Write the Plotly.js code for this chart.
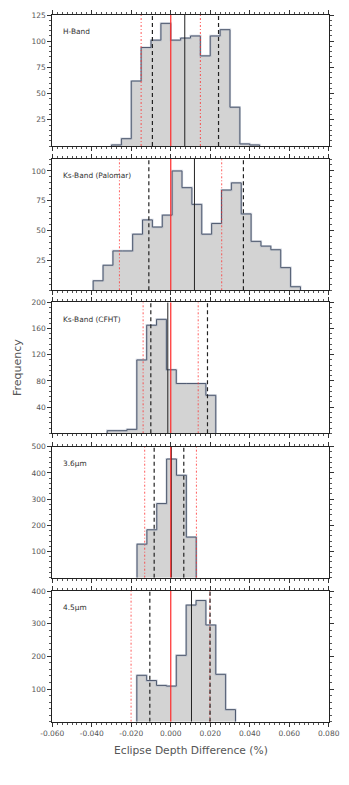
<!DOCTYPE html>
<html>
<head>
<meta charset="utf-8">
<script src="https://cdn.plot.ly/plotly-3.0.1.min.js"></script>
<style>
  html, body { margin: 0; padding: 0; background: #fff; }
  #chart { width: 349px; height: 785px; }
</style>
</head>
<body>
<div id="chart"></div>
<script>
/* histogram data, bin width 0.005 */
var binWidth = 0.005;

var bandNames = ['H-Band', 'Ks-Band (Palomar)', 'Ks-Band (CFHT)', '3.6\u03bcm', '4.5\u03bcm'];

var hBandStart = -0.030;
var hBandCounts = [1, 7, 62, 94, 101, 117, 101, 103, 105, 86, 105, 111, 37, 2, 1];

var palomarStart = -0.0393;
var palomarCounts = [8, 21, 33, 33, 47, 59, 53, 63, 100, 86, 72, 47, 56, 84, 90, 64, 41, 37, 34, 19, 3];

var cfhtStart = -0.0322;
var cfhtCounts = [4, 4, 6, 112, 165, 174, 97, 76, 76, 76, 58];

var irac1Start = -0.0171;
var irac1Counts = [128, 183, 283, 453, 391, 155];

var irac2Start = -0.0172;
var irac2Counts = [142, 126, 111, 109, 203, 357, 371, 296, 145, 37];

/* vertical markers: mean (black solid), 1-sigma (black dashed), red dotted */
var meanLines = [0.0071, 0.012, -0.0015, 0.0003, 0.0105];
var dashedLines = [[-0.0093, 0.0242], [-0.0111, 0.0368], [-0.0101, 0.0186], [-0.0084, 0.0066], [-0.0106, 0.0199]];
var dottedLines = [[-0.015, 0.015], [-0.026, 0.0258], [-0.014, 0.0139], [-0.0132, 0.013], [-0.0201, 0.0198]];

/* axes */
var yMax = [125, 110, 200, 500, 400];
var yTicks = [[25, 50, 75, 100, 125], [25, 50, 75, 100], [40, 80, 120, 160, 200], [100, 200, 300, 400, 500], [100, 200, 300, 400]];
var xTickVals = [-0.06, -0.04, -0.02, 0.0, 0.02, 0.04, 0.06, 0.08];
var xTickText = ['-0.060', '-0.040', '-0.020', '0.000', '0.020', '0.040', '0.060', '0.080'];

var starts = [hBandStart, palomarStart, cfhtStart, irac1Start, irac2Start];
var counts = [hBandCounts, palomarCounts, cfhtCounts, irac1Counts, irac2Counts];

// panel positions in pixels (top, bottom)
var W = 349, H = 785;
var panelPx = [[15, 146], [159, 290.3], [302.3, 433.3], [446.7, 577.7], [591, 721.7]];
var xDomain = [52.3 / W, 328.7 / W];

var traces = [];
var layout = {
	width: W,
	height: H,
	margin: {l: 0, r: 0, t: 0, b: 0},
	paper_bgcolor: '#fff',
	plot_bgcolor: '#fff',
	showlegend: false,
	font: {family: 'DejaVu Sans, sans-serif', size: 7.5, color: '#555'},
	annotations: []
};

for (var i = 0; i < 5; i++) {
	var sfx = i === 0 ? '' : String(i + 1);
	var xa = 'x' + sfx, ya = 'y' + sfx;

	// step outline of the histogram
	var xs = [starts[i]], ys = [0];
	for (var k = 0; k < counts[i].length; k++) {
		xs.push(starts[i] + k * binWidth);
		ys.push(counts[i][k]);
	}
	xs.push(starts[i] + counts[i].length * binWidth);
	ys.push(0);

	traces.push({
		x: xs, y: ys, xaxis: xa, yaxis: ya,
		type: 'scatter', mode: 'lines',
		line: {shape: 'hv', color: 'rgba(160,170,190,0.5)', width: 2.2},
		fill: 'tozeroy', fillcolor: '#d3d3d3',
		hoverinfo: 'skip'
	});
	traces.push({
		x: xs, y: ys, xaxis: xa, yaxis: ya,
		type: 'scatter', mode: 'lines',
		line: {shape: 'hv', color: '#505b70', width: 1},
		hoverinfo: 'skip'
	});

	dottedLines[i].forEach(function (v) {
		traces.push({
			x: [v, v], y: [0, yMax[i]], xaxis: xa, yaxis: ya,
			type: 'scatter', mode: 'lines',
			line: {color: 'rgba(255,50,50,0.8)', width: 1, dash: '2px,2px,1px,2px'}
		});
	});
	dashedLines[i].forEach(function (v) {
		traces.push({
			x: [v, v], y: [0, yMax[i]], xaxis: xa, yaxis: ya,
			type: 'scatter', mode: 'lines',
			line: {color: '#222', width: 1.2, dash: '4px,3px'}
		});
	});
	traces.push({
		x: [meanLines[i], meanLines[i]], y: [0, yMax[i]], xaxis: xa, yaxis: ya,
		type: 'scatter', mode: 'lines',
		line: {color: '#222', width: 1}
	});
	traces.push({
		x: [0, 0], y: [0, yMax[i]], xaxis: xa, yaxis: ya,
		type: 'scatter', mode: 'lines',
		line: {color: '#ff2a2a', width: 1.2}
	});

	var pTop = panelPx[i][0], pBot = panelPx[i][1];
	layout['xaxis' + sfx] = {
		domain: xDomain,
		anchor: ya,
		range: [-0.06, 0.08],
		tickvals: xTickVals,
		ticktext: xTickText,
		showticklabels: i === 4,
		ticks: 'outside', ticklen: 4, tickwidth: 1, tickcolor: '#333',
		minor: {dtick: 0.0025, ticks: 'outside', ticklen: 2, tickcolor: '#555', showgrid: false},
		showline: true, linecolor: '#222', linewidth: 1, mirror: 'allticks',
		showgrid: false, zeroline: false,
		tickfont: {size: 7.5, color: '#555'}
	};
	layout['yaxis' + sfx] = {
		domain: [1 - pBot / H, 1 - pTop / H],
		anchor: xa,
		range: [0, yMax[i]],
		tickvals: yTicks[i],
		ticks: 'outside', ticklen: 4, tickwidth: 1, tickcolor: '#333',
		minor: {dtick: (yTicks[i][1] - yTicks[i][0]) / 5, ticks: 'outside', ticklen: 2, tickcolor: '#555', showgrid: false},
		showline: true, linecolor: '#222', linewidth: 1, mirror: 'allticks',
		showgrid: false, zeroline: false,
		tickfont: {size: 7.5, color: '#555'}
	};

	layout.annotations.push({
		text: bandNames[i],
		xref: xa + ' domain', yref: ya + ' domain',
		x: 0.031, y: 1 - 16.7 / (pBot - pTop),
		xanchor: 'left', yanchor: 'middle',
		showarrow: false,
		font: {size: 7.4, color: '#333'}
	});
}

layout.annotations.push({
	text: 'Frequency',
	xref: 'paper', yref: 'paper',
	x: 17 / W, y: 1 - 368 / H,
	textangle: -90,
	xanchor: 'center', yanchor: 'middle',
	showarrow: false,
	font: {size: 11, color: '#555'}
});
layout.annotations.push({
	text: 'Eclipse Depth Difference (%)',
	xref: 'paper', yref: 'paper',
	x: 190.5 / W, y: 1 - 750.7 / H,
	xanchor: 'center', yanchor: 'middle',
	showarrow: false,
	font: {size: 10.7, color: '#555'}
});

Plotly.newPlot('chart', traces, layout, {displayModeBar: false, staticPlot: true});
</script>
</body>
</html>
